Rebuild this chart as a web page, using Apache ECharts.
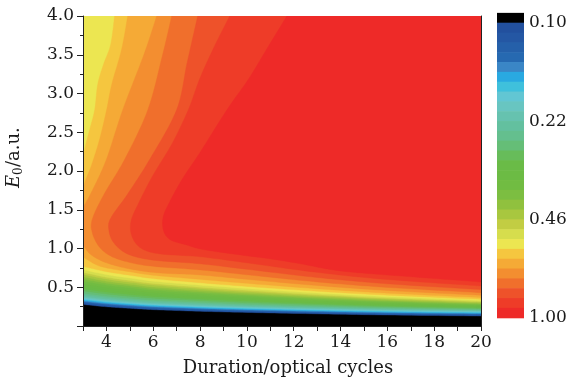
<!DOCTYPE html>
<html><head><meta charset="utf-8">
<script src="https://cdn.jsdelivr.net/npm/echarts/dist/echarts.min.js"></script>
<style>html,body{margin:0;padding:0;background:#fff}#c{width:587px;height:379px}</style>
</head><body><div id="c"></div>
<script>
// ---------------- data ----------------
// Duration columns (optical cycles) at which the lower contour edges were read
const durations = [3, 4, 5, 6, 8, 10, 13, 16, 20];
// E0 (a.u.) of contour boundaries 1..23 (lower, monotone edges) at each duration
const lowerEdges = [
  [0.278, 0.248, 0.228, 0.211, 0.190, 0.175, 0.157, 0.142, 0.129],
  [0.289, 0.258, 0.238, 0.221, 0.199, 0.184, 0.165, 0.150, 0.137],
  [0.300, 0.269, 0.248, 0.230, 0.208, 0.192, 0.174, 0.158, 0.145],
  [0.309, 0.278, 0.256, 0.238, 0.216, 0.200, 0.180, 0.164, 0.151],
  [0.318, 0.286, 0.264, 0.246, 0.224, 0.207, 0.187, 0.171, 0.158],
  [0.327, 0.295, 0.273, 0.254, 0.231, 0.214, 0.194, 0.178, 0.164],
  [0.337, 0.304, 0.282, 0.263, 0.240, 0.222, 0.202, 0.185, 0.171],
  [0.347, 0.314, 0.291, 0.272, 0.248, 0.230, 0.209, 0.192, 0.178],
  [0.358, 0.324, 0.301, 0.282, 0.257, 0.239, 0.217, 0.200, 0.186],
  [0.369, 0.335, 0.311, 0.291, 0.266, 0.247, 0.226, 0.208, 0.194],
  [0.385, 0.350, 0.325, 0.304, 0.278, 0.258, 0.235, 0.216, 0.200],
  [0.405, 0.368, 0.342, 0.320, 0.292, 0.271, 0.246, 0.225, 0.208],
  [0.425, 0.386, 0.359, 0.336, 0.307, 0.284, 0.257, 0.235, 0.215],
  [0.453, 0.412, 0.383, 0.358, 0.327, 0.302, 0.273, 0.248, 0.226],
  [0.481, 0.438, 0.407, 0.381, 0.348, 0.321, 0.288, 0.261, 0.236],
  [0.511, 0.465, 0.433, 0.405, 0.370, 0.341, 0.305, 0.276, 0.248],
  [0.545, 0.496, 0.462, 0.432, 0.394, 0.363, 0.324, 0.292, 0.260],
  [0.580, 0.527, 0.492, 0.460, 0.419, 0.386, 0.343, 0.308, 0.273],
  [0.608, 0.553, 0.516, 0.482, 0.440, 0.404, 0.358, 0.321, 0.284],
  [0.636, 0.578, 0.540, 0.504, 0.460, 0.423, 0.374, 0.334, 0.294],
  [0.666, 0.606, 0.566, 0.529, 0.482, 0.442, 0.391, 0.349, 0.306],
  [0.692, 0.630, 0.588, 0.549, 0.501, 0.460, 0.405, 0.361, 0.316],
  [0.728, 0.663, 0.619, 0.578, 0.527, 0.483, 0.425, 0.378, 0.329]
];
// Arch-shaped contour boundaries 24..30, as [duration, E0] points
const arch24 = [[4.35,4.0],[4.18,3.63],[3.88,3.38],[3.63,3.12],[3.5,2.79],[3.29,2.54],[3.07,2.28],[3.0,2.08],[3.0,0.770],[4,0.701],[5,0.655],[6,0.612],[8,0.558],[10,0.511],[13,0.449],[16,0.398],[20,0.345]];
const arch25 = [[4.91,4.0],[4.65,3.57],[4.23,3.12],[4.01,2.79],[3.71,2.41],[3.37,2.08],[3.12,1.89],[3.0,1.76],[3.0,0.893],[3.5,0.80],[4,0.75],[5,0.70],[6,0.655],[8,0.602],[10,0.551],[13,0.481],[16,0.424],[20,0.367]];
const arch26 = [[6.15,4.0],[5.6,3.5],[4.7,2.79],[4.0,2.15],[3.4,1.75],[3.0,1.527],[3.0,1.048],[3.3,0.93],[3.8,0.84],[4.5,0.77],[5.5,0.71],[6.5,0.68],[8,0.659],[10,0.602],[13,0.522],[16,0.458],[20,0.397]];
const arch27 = [[6.79,4.0],[6.4,3.5],[5.77,2.79],[4.78,2.15],[3.9,1.7],[3.4,1.38],[3.4,1.2],[3.7,1.02],[4.2,0.9],[5,0.82],[6,0.77],[8,0.724],[10,0.661],[13,0.569],[16,0.498],[20,0.430]];
const arch28 = [[7.9,4.0],[7.45,3.4],[7.0,2.79],[5.85,2.15],[4.9,1.7],[4.2,1.4],[4.1,1.25],[4.3,1.08],[4.9,0.93],[6,0.85],[8,0.803],[10,0.732],[13,0.626],[16,0.545],[20,0.470]];
const arch29 = [[9.27,4.0],[8.6,3.6],[8.0,3.2],[7.5,2.79],[6.8,2.35],[6.0,1.95],[5.4,1.6],[5.05,1.35],[5.1,1.15],[5.5,1.0],[6.3,0.93],[8,0.894],[10,0.815],[13,0.692],[16,0.600],[20,0.517]];
const arch30 = [[11.71,4.0],[10.9,3.6],[10.1,3.2],[9.15,2.79],[8.0,2.24],[7.25,1.9],[6.7,1.6],[6.42,1.4],[6.45,1.22],[6.75,1.11],[7.4,1.048],[8.2,0.983],[10,0.906],[11,0.867],[12.3,0.802],[14,0.711],[16.5,0.647],[20,0.569]];
// 31 colour bands, from below 0.10 (black) up to 1.00 (red)
const bandColors = ['#000000','#22509e','#2457a4','#2560aa','#2669b1','#3a86c6','#29a9e1','#3fc0dc','#62c6d3','#68c5c1','#66c2af','#63c09f','#64bf8e','#65be77','#67bc5a','#6abb47','#6cbb44','#71bc42','#7cbe41','#90c13e','#a8c73f','#c2cd43','#d6dd4d','#ece651','#f5c63f','#f5aa36','#f38e30','#f06f2c','#ee522a','#ee3c28','#ee2a28'];
// colour bar: log10 value in thirds of a decade; ticks at 0.10, 0.22, 0.46, 1.00
const colorbarTicks = [-3, -2, -1, 0];
const bandsPerThird = 10;

// ---------------- build ----------------
const contours = lowerEdges.map(row => row.map((e, j) => [durations[j], e]))
  .concat([arch24, arch25, arch26, arch27, arch28, arch29, arch30]);

const FONT = 'DejaVu Serif';
const TXT = '#1a1a1a';
const X0 = 3, X1 = 20, Y1 = 4;

function smoothCurve(px, breaks) {
  const n = px.length, out = [px[0]];
  for (let i = 0; i < n - 1; i++) {
    const p1 = px[i], p2 = px[i + 1];
    const p0 = (i > 0 && !breaks[i]) ? px[i - 1] : p1;
    const p3 = (i + 2 < n && !breaks[i + 1]) ? px[i + 2] : p2;
    const c1 = [p1[0] + (p2[0] - p0[0]) / 6, p1[1] + (p2[1] - p0[1]) / 6];
    const c2 = [p2[0] - (p3[0] - p1[0]) / 6, p2[1] - (p3[1] - p1[1]) / 6];
    for (let s = 1; s <= 12; s++) {
      const t = s / 12, u = 1 - t;
      const a = u * u * u, b = 3 * u * u * t, c = 3 * u * t * t, d = t * t * t;
      out.push([a * p1[0] + b * c1[0] + c * c2[0] + d * p2[0], a * p1[1] + b * c1[1] + c * c2[1] + d * p2[1]]);
    }
  }
  return out;
}

const chart = echarts.init(document.getElementById('c'), null, {renderer: 'canvas'});
const axisLineStyle = {color: '#222', width: 1};
chart.setOption({
  animation: false,
  backgroundColor: '#fff',
  grid: [
    {left: 83, right: 106, top: 16, bottom: 53, show: true, backgroundColor: bandColors[0], borderWidth: 0},
    {left: 497, right: 63, top: 23, bottom: 61}
  ],
  xAxis: [
    {type: 'value', gridIndex: 0, min: X0, max: X1, interval: 1, z: 10,
     axisLine: {lineStyle: axisLineStyle}, axisTick: {length: 5, lineStyle: axisLineStyle},
     axisLabel: {formatter: v => (v % 2 === 0 ? String(v) : ''), fontFamily: FONT, fontSize: 17, color: TXT, margin: 8},
     splitLine: {show: false}},
    {type: 'value', gridIndex: 0, min: X0, max: X1, position: 'top', z: 10,
     axisLine: {lineStyle: axisLineStyle}, axisTick: {show: false}, axisLabel: {show: false}, splitLine: {show: false}},
    {type: 'value', gridIndex: 1, min: 0, max: 1, show: false}
  ],
  yAxis: [
    {type: 'value', gridIndex: 0, min: 0, max: Y1, interval: 0.5, z: 10,
     axisLine: {lineStyle: axisLineStyle}, axisTick: {length: 6, lineStyle: axisLineStyle},
     minorTick: {show: true, splitNumber: 2, length: 3, lineStyle: axisLineStyle},
     axisLabel: {formatter: v => (v === 0 ? '' : v.toFixed(1)), fontFamily: FONT, fontSize: 17, color: TXT, margin: 9},
     splitLine: {show: false}},
    {type: 'value', gridIndex: 0, min: 0, max: Y1, position: 'right', z: 10,
     axisLine: {lineStyle: axisLineStyle}, axisTick: {show: false}, axisLabel: {show: false}, splitLine: {show: false}},
    {type: 'value', gridIndex: 1, min: colorbarTicks[0], max: colorbarTicks[colorbarTicks.length - 1], interval: 1,
     inverse: true, position: 'right',
     axisLine: {show: false}, axisTick: {show: false}, splitLine: {show: false},
     axisLabel: {formatter: v => Math.pow(10, v / 3).toFixed(2), fontFamily: FONT, fontSize: 17, color: TXT, margin: 5}}
  ],
  series: [
    {
      type: 'custom', xAxisIndex: 0, yAxisIndex: 0, clip: true, silent: true,
      data: contours.map((c, i) => [i]),
      renderItem: (params, api) => {
        const i = params.dataIndex;
        const c = contours[i];
        const px = c.map(p => api.coord(p));
        const breaks = c.map(p => p[0] === X0);
        const pts = smoothCurve(px, breaks);
        pts.push(api.coord([X1, Y1]));
        pts.push(api.coord([c[0][0], Y1]));
        return {type: 'polygon', z2: i, shape: {points: pts},
                style: {fill: bandColors[i + 1], stroke: bandColors[i + 1], lineWidth: 0.4}};
      }
    },
    {
      type: 'custom', xAxisIndex: 2, yAxisIndex: 2, clip: false, silent: true,
      data: bandColors.map((c, i) => [i]),
      renderItem: (params, api) => {
        const i = params.dataIndex;
        const lo = colorbarTicks[0] + (i - 1) / bandsPerThird;
        const hi = lo + 1 / bandsPerThird;
        const a = api.coord([0, lo]), b = api.coord([1, hi]);
        return {type: 'rect', shape: {x: a[0], y: Math.min(a[1], b[1]) - 0.3, width: b[0] - a[0], height: Math.abs(b[1] - a[1]) + 0.6},
                style: {fill: bandColors[i]}};
      }
    }
  ],
  graphic: [
    {type: 'group', x: 14, y: 157, rotation: Math.PI / 2, children: [
      {type: 'text', x: -31, y: 0, style: {text: 'E', font: 'italic 18px "DejaVu Serif"', fill: TXT, textAlign: 'left', textVerticalAlign: 'middle'}},
      {type: 'text', x: -18, y: 5, style: {text: '0', font: '12px "DejaVu Serif"', fill: TXT, textAlign: 'left', textVerticalAlign: 'middle'}},
      {type: 'text', x: -10, y: 0, style: {text: '/a.u.', font: '18px "DejaVu Serif"', fill: TXT, textAlign: 'left', textVerticalAlign: 'middle'}}
    ]},
    {type: 'text', x: 288, y: 368, style: {text: 'Duration/optical cycles', font: '18px "DejaVu Serif"', fill: TXT, textAlign: 'center', textVerticalAlign: 'middle'}}
  ]
});
</script></body></html>
